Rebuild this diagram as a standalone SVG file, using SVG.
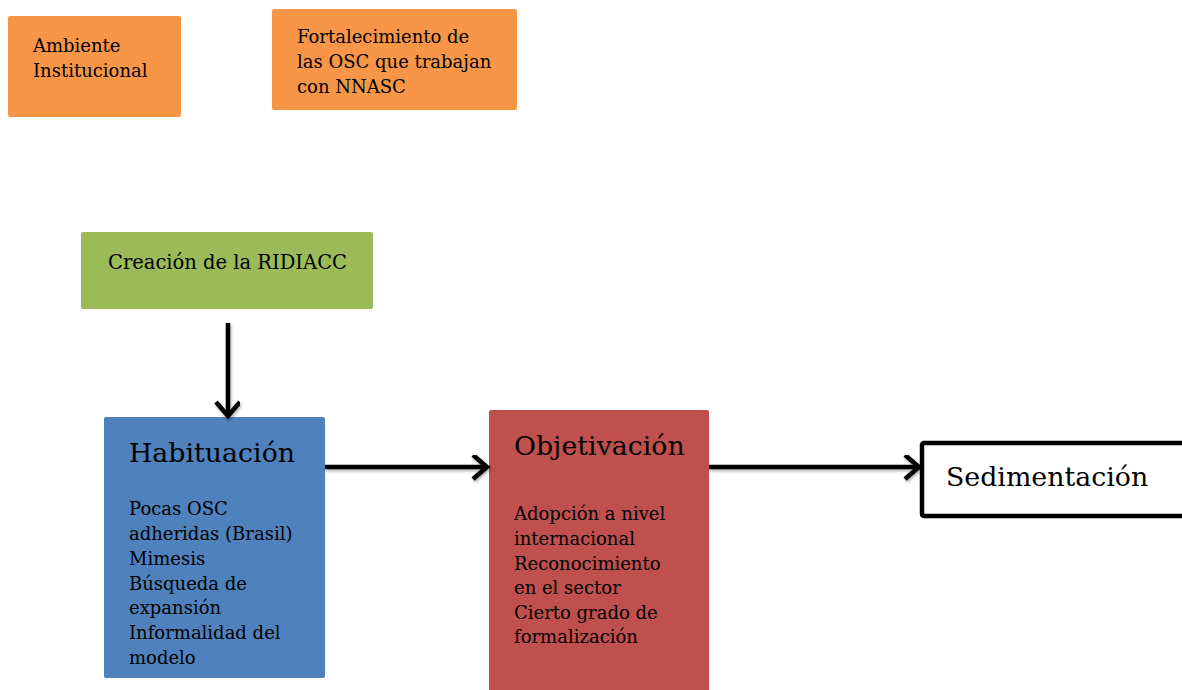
<svg xmlns="http://www.w3.org/2000/svg" width="1182" height="690" viewBox="0 0 1182 690">
<defs>
<style>
text{font-family:"DejaVu Serif","Liberation Serif",serif;fill:#000}
.s{font-size:18px}
.m{font-size:19.5px}
.t{font-size:26.8px}
.conn{stroke:#000;stroke-width:4.5;fill:none}
</style>
<marker id="ah" markerUnits="userSpaceOnUse" markerWidth="30" markerHeight="30" refX="16" refY="12" orient="auto" viewBox="0 0 30 30">
<polyline points="2,0 16,12 2,24" fill="none" stroke="#000" stroke-width="4.5"/>
</marker>
<filter id="sh" x="-20%" y="-20%" width="140%" height="140%">
<feDropShadow dx="1" dy="2" stdDeviation="1.5" flood-color="#000" flood-opacity="0.3"/>
</filter>
</defs>
<rect width="1182" height="690" fill="#fff"/>
<g id="ambiente">
<rect x="8" y="16" width="173" height="101" rx="2" fill="#F79646"/>
<text class="s" x="33" y="52">Ambiente</text>
<text class="s" x="33" y="77">Institucional</text>
</g>
<g id="fortalecimiento">
<rect x="272" y="9" width="245" height="101" rx="2" fill="#F79646"/>
<text class="s" x="297" y="43">Fortalecimiento de</text>
<text class="s" x="297" y="68">las OSC que trabajan</text>
<text class="s" x="297" y="93">con NNASC</text>
</g>
<g id="creacion">
<rect x="81" y="232" width="292" height="77" rx="2" fill="#9BBB59"/>
<text class="m" x="108" y="269">Creación de la RIDIACC</text>
</g>
<g id="habituacion">
<rect x="104" y="417" width="221" height="261" rx="2" fill="#4F81BD"/>
<text class="t" x="129" y="462">Habituación</text>
<text class="s" x="129" y="515">Pocas OSC</text>
<text class="s" x="129" y="540">adheridas (Brasil)</text>
<text class="s" x="129" y="565">Mimesis</text>
<text class="s" x="129" y="590">Búsqueda de</text>
<text class="s" x="129" y="614">expansión</text>
<text class="s" x="129" y="639">Informalidad del</text>
<text class="s" x="129" y="664">modelo</text>
</g>
<g id="objetivacion">
<rect x="489" y="410" width="220" height="290" rx="2" fill="#C0504D"/>
<text class="t" x="514" y="455">Objetivación</text>
<text class="s" x="514" y="520">Adopción a nivel</text>
<text class="s" x="514" y="545">internacional</text>
<text class="s" x="514" y="570">Reconocimiento</text>
<text class="s" x="514" y="594">en el sector</text>
<text class="s" x="514" y="619">Cierto grado de</text>
<text class="s" x="514" y="643">formalización</text>
</g>
<g id="sedimentacion">
<rect x="922" y="443" width="270" height="73" rx="2" fill="#fff" stroke="#000" stroke-width="4.5"/>
<text class="t" x="946" y="486">Sedimentación</text>
</g>
<g id="connectors" filter="url(#sh)">
<line class="conn" x1="228" y1="323" x2="228" y2="416" marker-end="url(#ah)"/>
<line class="conn" x1="325" y1="467" x2="487" y2="467" marker-end="url(#ah)"/>
<line class="conn" x1="709" y1="467" x2="919" y2="467" marker-end="url(#ah)"/>
</g>
</svg>
